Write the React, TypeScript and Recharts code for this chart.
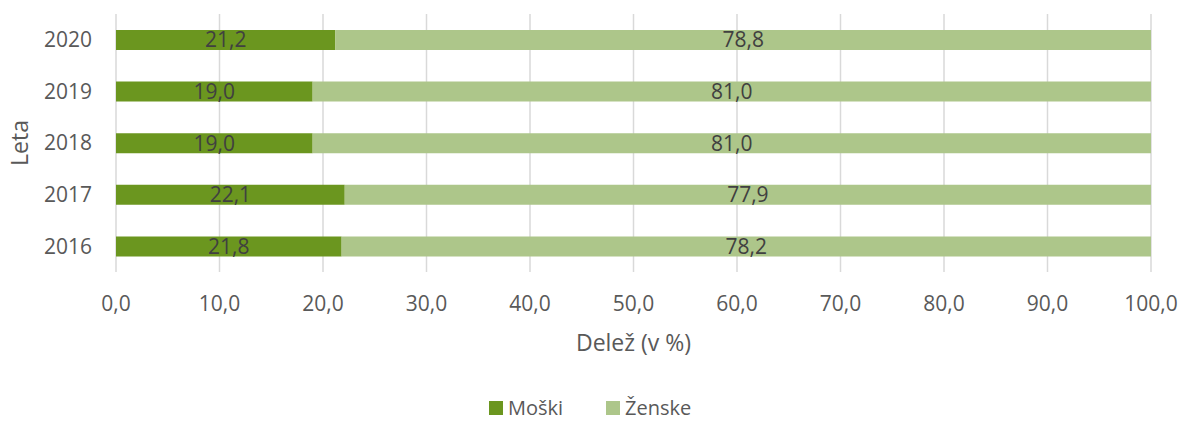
import React from 'react';
import { BarChart, Bar, XAxis, YAxis, CartesianGrid, Legend, LabelList } from 'recharts';

const years = ['2020', '2019', '2018', '2017', '2016'];
const moski = [21.2, 19.0, 19.0, 22.1, 21.8];
const zenske = [78.8, 81.0, 81.0, 77.9, 78.2];
const xTicks = [0, 10, 20, 30, 40, 50, 60, 70, 80, 90, 100];

const data = years.map((y, i) => ({ leto: y, Moški: moski[i], Ženske: zenske[i] }));

const DARK = '#6B961F';
const LIGHT = '#ADC68A';
const FONT = '"Open Sans", sans-serif';
const fmt = (v: number) => v.toFixed(1).replace('.', ',');

const LegendContent = (props: any) => {
  const { payload } = props;
  return (
    <div style={{ display: 'flex', fontFamily: FONT, fontSize: 20, lineHeight: '20px', color: '#595959' }}>
      {(payload || []).map((p: any, i: number) => (
        <div key={i} style={{ display: 'flex', alignItems: 'center', marginRight: i === 0 ? 43 : 0 }}>
          <div style={{ width: 14, height: 14, background: p.color, marginRight: 5 }} />
          <span>{p.value}</span>
        </div>
      ))}
    </div>
  );
};

export default function App() {
  return (
    <div style={{ position: 'absolute', left: 0, top: 0, width: 1181, height: 423, background: '#fff', overflow: 'hidden' }}>
      <BarChart
        width={1181}
        height={423}
        data={data}
        layout="vertical"
        margin={{ top: 14, right: 30, left: 0, bottom: 0 }}
        barSize={20}
      >
        <CartesianGrid horizontal={false} vertical={true} stroke="#D9D9D9" strokeWidth={1.5} />
        <XAxis
          type="number"
          domain={[0, 100]}
          ticks={xTicks}
          tickFormatter={fmt}
          axisLine={false}
          tickLine={false}
          tickSize={0}
          tickMargin={24}
          height={151}
          tick={{ fill: '#595959', fontSize: 21, fontFamily: FONT }}
          label={{ value: 'Delež (v %)', position: 'insideTop', offset: 63, fill: '#595959', fontSize: 23, fontFamily: FONT }}
        />
        <YAxis
          type="category"
          dataKey="leto"
          width={116}
          axisLine={false}
          tickLine={false}
          tickSize={0}
          tickMargin={24}
          tick={{ fill: '#595959', fontSize: 21, fontFamily: FONT }}
          label={{ value: 'Leta', angle: -90, position: 'insideLeft', offset: 20, fill: '#595959', fontSize: 23, fontFamily: FONT, style: { textAnchor: 'middle' } }}
        />
        <Legend
          verticalAlign="middle"
          layout="horizontal"
          wrapperStyle={{ position: 'absolute', left: 489, top: 398, width: 300 }}
          content={<LegendContent />}
        />
        <Bar dataKey="Moški" stackId="a" fill={DARK} isAnimationActive={false}>
          <LabelList dataKey="Moški" position="center" formatter={fmt} fill="#404040" fontSize={21} fontFamily={FONT} />
        </Bar>
        <Bar dataKey="Ženske" stackId="a" fill={LIGHT} isAnimationActive={false}>
          <LabelList dataKey="Ženske" position="center" formatter={fmt} fill="#404040" fontSize={21} fontFamily={FONT} />
        </Bar>
      </BarChart>
    </div>
  );
}
